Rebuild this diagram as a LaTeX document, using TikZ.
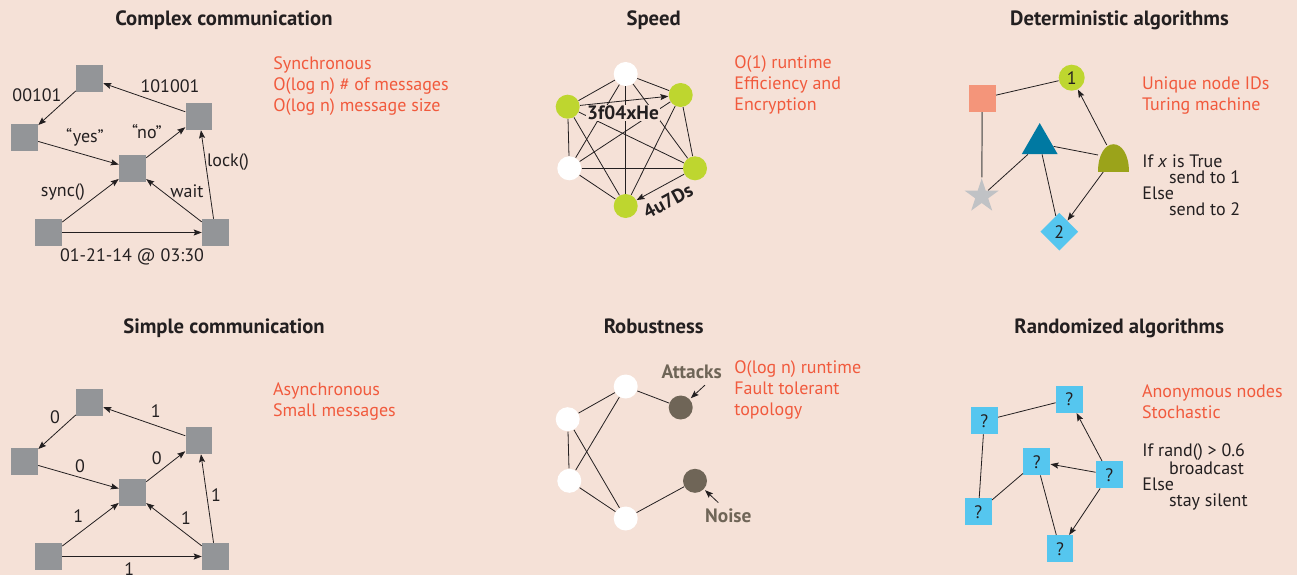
\documentclass[tikz,border=0pt]{standalone}
\usepackage{fontspec}
\setmainfont{PT Sans}
\usetikzlibrary{arrows.meta,shapes.geometric}
\definecolor{bg}{HTML}{F5E1D7}
\definecolor{boxgray}{HTML}{939598}
\definecolor{tomato}{HTML}{F15A3D}
\definecolor{limec}{HTML}{BED62F}
\definecolor{mud}{HTML}{6F6557}
\definecolor{salmon}{HTML}{F4957A}
\definecolor{tealc}{HTML}{0079A2}
\definecolor{olivec}{HTML}{9BA31A}
\definecolor{stargray}{HTML}{C0C2C5}
\definecolor{sky}{HTML}{55C6EF}
\definecolor{ink}{HTML}{231F20}
\definecolor{stemgray}{HTML}{807A76}
\begin{document}
\fontsize{13.5pt}{15.75pt}\selectfont
\begin{tikzpicture}[x=0.75pt,y=-0.75pt,>={Stealth[length=6pt,width=4.5pt,inset=1pt]},
  line width=0.6pt, draw=ink,
  every node/.style={text=ink},
  ttl/.style={font=\fontsize{15.5pt}{18pt}\selectfont\bfseries, anchor=base},
  note/.style={text=tomato, align=left, anchor=north west, inner sep=0pt},
  code/.style={align=left, anchor=north west, inner sep=0pt, font=\fontsize{13.5pt}{12pt}\selectfont},
  box/.style={fill=boxgray, minimum size=20pt, inner sep=0pt},
  dot/.style={circle, minimum size=18pt, inner sep=0pt},
  qbox/.style={fill=sky, minimum size=20pt, inner sep=0pt},
  key/.style={font=\fontsize{14.5pt}{17pt}\selectfont\bfseries},
  tag/.style={key, text=mud}]
\path[use as bounding box, fill=bg] (0,0) rectangle (1297,575);

% complex communication
\node[ttl] at (224,25.7) {Complex communication};
\node[box] (a1) at (89.5,78.5) {};
\node[box] (b1) at (24.5,137.5) {};
\node[box] (c1) at (132.5,168.5) {};
\node[box] (d1) at (199,116.5) {};
\node[box] (e1) at (48.5,232.5) {};
\node[box] (f1) at (215.5,232.5) {};
\draw[->] (a1) -- node[shift={(-20,-13)}]{00101} (b1);
\draw[->] (d1) -- node[shift={(25.75,-11.5)}]{101001} (a1);
\draw[->] (b1) -- node[shift={(6.5,-16)}]{“yes”} (c1);
\draw[->] (c1) -- node[shift={(-18.75,-10.5)}]{“no”} (d1);
\draw[->] (e1) -- node[shift={(-27.5,-8.5)}]{sync()} (c1);
\draw[->] (f1) -- node[shift={(13,-9.5)}]{wait} (c1);
\draw[->] (f1) -- node[shift={(20.75,-12.5)}]{lock()} (d1);
\draw[->] (e1) -- node[shift={(0,24.5)}]{01-21-14 @ 03:30} (f1);
\node[note] at (273,56.5) {Synchronous\\O(log n) \# of messages\\O(log n) message size};

% speed
\node[ttl] at (653.7,25.7) {Speed};
\node[dot, fill=white] (t2) at (625.7,74) {};
\node[dot, fill=limec] (ul2) at (567.7,106.7) {};
\node[dot, fill=limec] (ur2) at (680.7,95) {};
\node[dot, fill=white] (ll2) at (569.3,168.3) {};
\node[dot, fill=limec] (lr2) at (695,168.3) {};
\node[dot, fill=limec] (b2) at (625.7,206) {};
\foreach \p/\q in {t2/ul2,t2/ur2,t2/ll2,t2/lr2,t2/b2,ul2/ll2,ul2/lr2,ul2/b2,
                   ur2/ll2,ur2/lr2,ur2/b2,ll2/lr2,ll2/b2}
  \draw (\p) -- (\q);
\draw[->] (ul2) -- node[shift={(-1.2,12.2)}, fill=bg, inner sep=1pt, key]{3f04xHe} (ur2);
\draw[->] (lr2) -- node[sloped, below=2pt, key]{4u7Ds} (b2);
\node[note] at (734,55) {O(1) runtime\\Efficiency and\\Encryption};

% deterministic algorithms
\node[ttl] at (1119.5,25.7) {Deterministic algorithms};
\node[circle, fill=limec, minimum size=19.5pt, inner sep=0pt] (one) at (1071.7,77.7) {1};
\node[fill=salmon, minimum size=20pt, inner sep=0pt] (sq3) at (982.3,98.3) {};
\node[regular polygon, regular polygon sides=3, fill=tealc, minimum size=31pt, inner sep=0pt] (tri3) at (1039.7,143.7) {};
\node[ellipse, minimum width=23.25pt, minimum height=21pt, inner sep=0pt] (dome) at (1113.5,158) {};
\node[star, star points=5, star point ratio=2.618, minimum size=26.8pt, inner sep=0pt, fill=stargray] (star3) at (981.7,196.2) {};
\node[diamond, fill=sky, minimum size=28.5pt, inner sep=0pt] (two) at (1059.3,231.7) {2};
\draw (sq3) -- (one);
\draw[line width=1.1pt, draw=stemgray] (sq3) -- (star3);
\draw (tri3) -- (star3);
\draw (tri3) -- (dome);
\draw (tri3) -- (two);
\draw[->] (dome) -- (one);
\draw[->] (dome) -- (two);
\fill[olivec] (1098,172) .. controls (1098,134.5) and (1129,134.5) .. (1129,172) -- cycle;
\node[note] at (1141.7,76.5) {Unique node IDs\\Turing machine};
\node[code] at (1142,154) {If \textit{x} is True\\\hspace*{20pt}send to 1\\Else\\\hspace*{20pt}send to 2};

% simple communication
\node[ttl] at (224,333.3) {Simple communication};
\node[box] (a4) at (89.5,402.5) {};
\node[box] (b4) at (24.5,461.5) {};
\node[box] (c4) at (132.5,492.5) {};
\node[box] (d4) at (199,440.5) {};
\node[box] (e4) at (48.5,556.5) {};
\node[box] (f4) at (215.5,556.5) {};
\draw[->] (a4) -- node[shift={(-2,-15.3)}]{0} (b4);
\draw[->] (d4) -- node[shift={(11.5,-10.8)}]{1} (a4);
\draw[->] (b4) -- node[shift={(1.5,-11.3)}]{0} (c4);
\draw[->] (c4) -- node[shift={(-9,-8.2)}]{0} (d4);
\draw[->] (e4) -- node[shift={(-12.2,-8.5)}]{1} (c4);
\draw[->] (f4) -- node[shift={(12,-6.2)}]{1} (c4);
\draw[->] (f4) -- node[shift={(8.75,-3.5)}]{1} (d4);
\draw[->] (e4) -- node[shift={(-2.7,13)}]{1} (f4);
\node[note] at (272.7,382) {Asynchronous\\Small messages};

% robustness
\node[ttl] at (653.7,333.3) {Robustness};
\node[dot, fill=white] (t5) at (625.7,386.5) {};
\node[dot, fill=white] (lu5) at (567.7,419.2) {};
\node[dot, fill=white] (ll5) at (569.3,480.8) {};
\node[dot, fill=white] (b5) at (625.7,518.5) {};
\node[dot, fill=mud] (at5) at (680.7,407.5) {};
\node[dot, fill=mud] (no5) at (695,480.8) {};
\foreach \p/\q in {t5/lu5,t5/ll5,t5/at5,lu5/ll5,lu5/b5,ll5/b5,b5/no5}
  \draw (\p) -- (\q);
\node[tag] (atk) at (691.7,371.7) {Attacks};
\node[tag] (noise) at (728.3,516) {Noise};
\draw[->, shorten >=1pt] ([xshift=10pt]atk.south) -- (at5);
\draw[->, shorten >=1pt] ([xshift=-7.5pt]noise.north) -- (no5);
\node[note] at (734,360.5) {O(log n) runtime\\Fault tolerant\\topology};

% randomized algorithms
\node[ttl] at (1119.2,333.3) {Randomized algorithms};
\node[qbox] (q1) at (1069.3,399.3) {?};
\node[qbox] (q2) at (984.3,420.7) {?};
\node[qbox] (q3) at (1036.7,461.7) {?};
\node[qbox] (q4) at (1109.3,474.7) {?};
\node[qbox] (q5) at (978.3,511.7) {?};
\node[qbox] (q6) at (1060,548.7) {?};
\draw (q2) -- (q1);
\draw (q2) -- (q5);
\draw (q3) -- (q5);
\draw (q3) -- (q6);
\draw[->] (q4) -- (q1);
\draw[->] (q4) -- (q3);
\draw[->] (q4) -- (q6);
\node[note] at (1141.7,384.5) {Anonymous nodes\\Stochastic};
\node[code] at (1142,443.5) {If rand() > 0.6\\\hspace*{20pt}broadcast\\Else\\\hspace*{20pt}stay silent};
\end{tikzpicture}
\end{document}
